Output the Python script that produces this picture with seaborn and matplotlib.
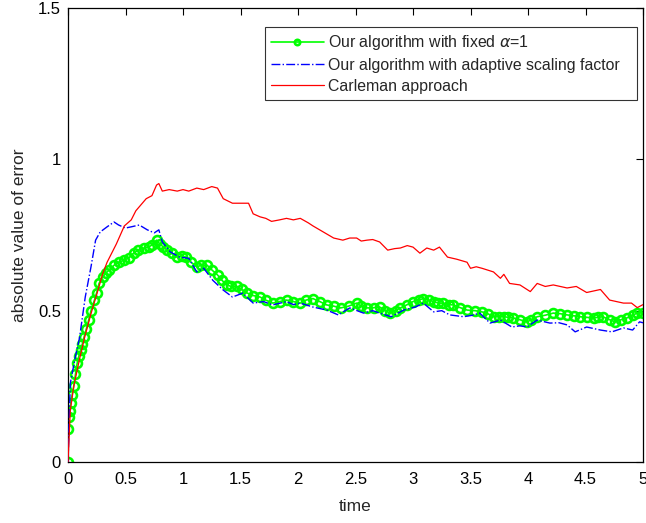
import matplotlib
matplotlib.use("Agg")
import matplotlib.pyplot as plt
import seaborn as sns
import pandas as pd
from matplotlib.ticker import FormatStrFormatter

sns.set_style("white")
plt.rcParams['font.family'] = ['Liberation Sans', 'DejaVu Sans']
plt.rcParams['mathtext.fontset'] = 'dejavusans'

# Carleman approach (red)
red_t = [0, 0.02, 0.05, 0.1, 0.15, 0.2, 0.27, 0.3, 0.34, 0.42, 0.49, 0.55, 0.59, 0.68, 0.73, 0.77, 0.79,
         0.82, 0.88, 0.95, 1.0, 1.05, 1.12, 1.18, 1.25, 1.3, 1.35, 1.43, 1.5, 1.57, 1.61, 1.67, 1.72, 1.77,
         1.84, 1.9, 1.96, 2.02, 2.09, 2.13, 2.22, 2.31, 2.39, 2.45, 2.51, 2.55, 2.6, 2.65, 2.71, 2.78, 2.84,
         2.89, 2.95, 3.0, 3.06, 3.12, 3.18, 3.23, 3.3, 3.38, 3.47, 3.5, 3.55, 3.6, 3.7, 3.76, 3.79, 3.84,
         3.93, 4.02, 4.08, 4.15, 4.22, 4.34, 4.42, 4.51, 4.57, 4.63, 4.71, 4.77, 4.83, 4.9, 4.95, 5.0]
red_v = [0, 0.17, 0.25, 0.34, 0.42, 0.49, 0.58, 0.62, 0.66, 0.72, 0.78, 0.80, 0.83, 0.87, 0.88, 0.915, 0.92,
         0.895, 0.90, 0.895, 0.90, 0.895, 0.905, 0.90, 0.91, 0.905, 0.87, 0.855, 0.855, 0.855, 0.82, 0.81, 0.805, 0.795,
         0.80, 0.805, 0.80, 0.805, 0.79, 0.78, 0.76, 0.74, 0.733, 0.74, 0.74, 0.73, 0.733, 0.735, 0.727, 0.70, 0.705,
         0.707, 0.715, 0.71, 0.69, 0.707, 0.70, 0.71, 0.677, 0.67, 0.66, 0.64, 0.645, 0.64, 0.628, 0.607, 0.62, 0.59,
         0.585, 0.563, 0.59, 0.58, 0.585, 0.575, 0.58, 0.56, 0.565, 0.57, 0.535, 0.53, 0.525, 0.525, 0.51, 0.52]

# adaptive scaling factor (blue)
blue_t = [0, 0.02, 0.06, 0.1, 0.15, 0.2, 0.24, 0.28, 0.34, 0.4, 0.44, 0.5, 0.55, 0.62, 0.69, 0.75, 0.79,
          0.82, 0.89, 0.97, 1.05, 1.12, 1.18, 1.26, 1.35, 1.43, 1.52, 1.61, 1.7, 1.78, 1.9, 1.96, 2.02,
          2.13, 2.25, 2.35, 2.45, 2.57, 2.65, 2.71, 2.81, 2.92, 3.02, 3.09, 3.18, 3.25, 3.32, 3.44, 3.52,
          3.58, 3.67, 3.76, 3.86, 3.93, 3.99, 4.08, 4.19, 4.27, 4.34, 4.41, 4.51, 4.63, 4.73, 4.83, 4.91,
          4.97, 5.0]
blue_v = [0, 0.26, 0.34, 0.41, 0.545, 0.645, 0.733, 0.76, 0.777, 0.793, 0.783, 0.773, 0.777, 0.783, 0.767, 0.757, 0.767,
          0.727, 0.694, 0.677, 0.673, 0.628, 0.64, 0.60, 0.568, 0.545, 0.558, 0.525, 0.53, 0.519, 0.53, 0.52, 0.525,
          0.512, 0.502, 0.486, 0.509, 0.492, 0.50, 0.492, 0.48, 0.502, 0.512, 0.525, 0.496, 0.50, 0.486, 0.48, 0.485,
          0.492, 0.459, 0.469, 0.446, 0.45, 0.446, 0.469, 0.459, 0.46, 0.453, 0.43, 0.446, 0.436, 0.43, 0.443, 0.436,
          0.463, 0.46]

# fixed alpha = 1 (green)
green_t = [0, 0.003, 0.008, 0.015, 0.025, 0.035, 0.05, 0.065, 0.08, 0.095, 0.11, 0.125, 0.14, 0.16, 0.18, 0.2,
           0.23, 0.25, 0.27, 0.3, 0.33, 0.36, 0.4, 0.44, 0.49, 0.53, 0.57, 0.61, 0.66, 0.7, 0.73, 0.77, 0.8, 0.83,
           0.86, 0.9, 0.95, 0.99, 1.03, 1.07, 1.12, 1.16, 1.21, 1.25, 1.3, 1.34, 1.38, 1.42, 1.47, 1.51, 1.56,
           1.61, 1.67, 1.72, 1.78, 1.84, 1.9, 1.96, 2.02, 2.07, 2.13, 2.19, 2.25, 2.31, 2.37, 2.44, 2.51, 2.55,
           2.6, 2.66, 2.71, 2.76, 2.8, 2.85, 2.89, 2.95, 3.0, 3.05, 3.09, 3.14, 3.18, 3.22, 3.26, 3.31, 3.35,
           3.41, 3.47, 3.54, 3.6, 3.65, 3.7, 3.75, 3.79, 3.83, 3.87, 3.93, 3.99, 4.03, 4.08, 4.15, 4.22, 4.28,
           4.34, 4.4, 4.45, 4.51, 4.57, 4.61, 4.65, 4.71, 4.76, 4.81, 4.86, 4.91, 4.95, 5.0]
green_v = [0, 0.11, 0.15, 0.17, 0.195, 0.22, 0.25, 0.29, 0.327, 0.35, 0.37, 0.39, 0.413, 0.44, 0.469, 0.50,
           0.535, 0.56, 0.59, 0.61, 0.624, 0.635, 0.65, 0.66, 0.667, 0.675, 0.69, 0.70, 0.707, 0.71, 0.717, 0.733, 0.72, 0.71,
           0.70, 0.69, 0.677, 0.68, 0.677, 0.66, 0.645, 0.65, 0.65, 0.635, 0.618, 0.60, 0.585, 0.58, 0.58, 0.57, 0.558,
           0.55, 0.545, 0.535, 0.525, 0.53, 0.535, 0.53, 0.525, 0.535, 0.54, 0.53, 0.519, 0.515, 0.509, 0.515, 0.525, 0.515,
           0.509, 0.51, 0.512, 0.50, 0.492, 0.50, 0.509, 0.52, 0.53, 0.535, 0.54, 0.535, 0.53, 0.525, 0.525, 0.52, 0.519,
           0.51, 0.502, 0.50, 0.496, 0.49, 0.48, 0.48, 0.48, 0.478, 0.476, 0.47, 0.463, 0.47, 0.48, 0.485, 0.492, 0.49,
           0.486, 0.483, 0.48, 0.478, 0.476, 0.478, 0.48, 0.47, 0.463, 0.47, 0.476, 0.485, 0.492, 0.493]

x_ticks = [0, 0.5, 1, 1.5, 2, 2.5, 3, 3.5, 4, 4.5, 5]
y_ticks = [0, 0.5, 1, 1.5]

lab_green = r"Our algorithm with fixed $\alpha$=1"
lab_blue = "Our algorithm with adaptive scaling factor"
lab_red = "Carleman approach"

fig = plt.figure(figsize=(6.46, 5.23), dpi=100)
ax = fig.add_axes([68/646, 1 - 462/523, 575/646, 454/523])

df_g = pd.DataFrame({"t": green_t, "v": green_v})
df_b = pd.DataFrame({"t": blue_t, "v": blue_v})
df_r = pd.DataFrame({"t": red_t, "v": red_v})

sns.lineplot(data=df_g, x="t", y="v", ax=ax, color="#00ff00", lw=1.2, marker="o",
             markersize=6.4, markerfacecolor="none", markeredgecolor="#00ff00", markeredgewidth=1.9,
             estimator=None, sort=False, label=lab_green, zorder=2)
sns.lineplot(data=df_b, x="t", y="v", ax=ax, color="#0000ff", lw=1.0, linestyle="-.",
             estimator=None, sort=False, label=lab_blue, zorder=3)
sns.lineplot(data=df_r, x="t", y="v", ax=ax, color="#ff0000", lw=0.9,
             estimator=None, sort=False, label=lab_red, zorder=4)

ax.set_xlim(0, 5)
ax.set_ylim(0, 1.5)
ax.set_xticks(x_ticks)
ax.set_yticks(y_ticks)
ax.xaxis.set_major_formatter(FormatStrFormatter('%g'))
ax.yaxis.set_major_formatter(FormatStrFormatter('%g'))
ax.tick_params(direction='in', length=5, width=0.8, top=True, right=True, labelsize=12,
               colors='black')
ax.tick_params(axis='x', pad=7)
ax.tick_params(axis='y', pad=5)
for s in ax.spines.values():
    s.set_color('black')
    s.set_linewidth(0.9)
ax.set_xlabel("time", fontsize=12.5, labelpad=9)
ax.set_ylabel("absolute value of error", fontsize=12.5, labelpad=8)

x0 = (265 - 68) / 575
w = (637 - 265) / 575
y1 = (462 - 27) / 454
h = (99 - 27) / 454
leg = ax.legend(loc='upper left', bbox_to_anchor=(x0, y1 - h, w, h), mode='expand', borderaxespad=0,
                fontsize=11.4, frameon=True, fancybox=False, edgecolor='black', handlelength=3.3,
                handletextpad=0.3, borderpad=0.4, labelspacing=0.36, markerscale=0.6)
leg.get_frame().set_linewidth(0.8)

fig.savefig("out.png", dpi=100)
